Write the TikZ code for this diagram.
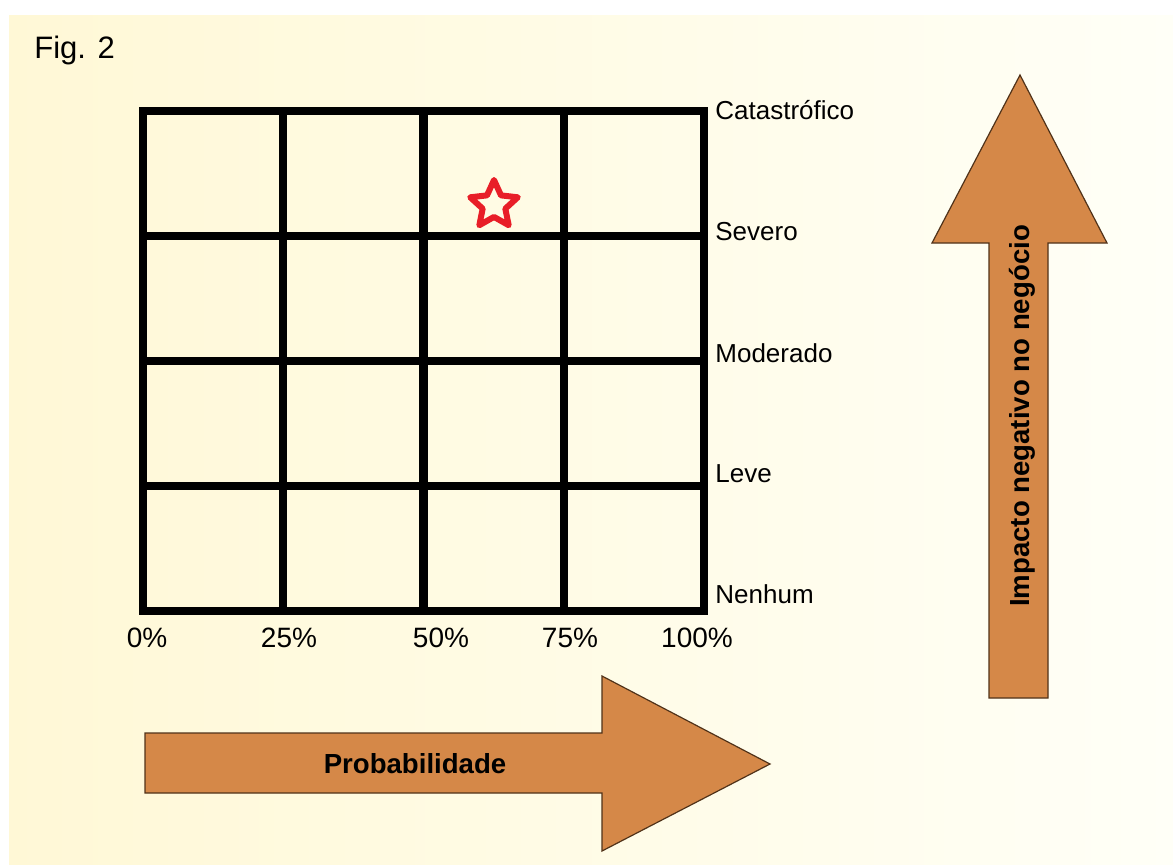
\documentclass[tikz,border=0pt]{standalone}
\usepackage{fontspec}
\setmainfont{Liberation Sans}
\usepackage{tikz}
\usetikzlibrary{positioning,shapes.geometric}
\definecolor{bgleft}{RGB}{255,248,214}
\definecolor{bgright}{RGB}{255,255,247}
\definecolor{arrowfill}{RGB}{213,136,72}
\definecolor{arrowedge}{RGB}{80,50,25}
\definecolor{starred}{RGB}{232,30,40}

\begin{document}
\begin{tikzpicture}[
    x=0.5pt, y=-0.5pt,
    every node/.style={font=\fontsize{13}{15}\selectfont, inner sep=0pt},
    gridline/.style={line width=4.2pt},
    level/.style={anchor=west},
    pct/.style={font=\fontsize{14}{16}\selectfont},
    bigarrow/.style={fill=arrowfill, draw=arrowedge, line width=0.6pt, line join=miter},
    arrowtext/.style={font=\bfseries\fontsize{13.8}{16}\selectfont},
    riskstar/.style={star, star points=5, star point ratio=2.1, draw=starred, line width=3pt, line join=round, minimum size=25pt}
]
\useasboundingbox (0,0) rectangle (1173,864);
\shade[left color=bgleft, right color=bgright] (9,15) rectangle (1173,864);

% title
\node[anchor=west, font=\fontsize{15.5}{18}\selectfont] (fig) at (34,50) {Fig. 2};

% grid
\foreach \i/\x in {0/143,1/283.25,2/423.5,3/563.75,4/704}
  \foreach \j/\y in {0/111,1/236,2/361,3/486,4/611}
    \coordinate (g\i\j) at (\x,\y);
\foreach \i in {1,2,3}
  \draw[gridline] (g\i0) -- (g\i4);
\foreach \j in {1,2,3}
  \draw[gridline] (g0\j) -- (g4\j);
\draw[gridline, line join=miter] (g00) rectangle (g44);

% impact levels
\foreach \n/\t/\y in {cat/Catastrófico/110, sev/Severo/232, mod/Moderado/353, lev/Leve/474, nen/Nenhum/594}
  \node[level] (\n) at (715,\y) {\t};

% probability ticks
\foreach \n/\t/\x in {p0/0\%/147, p25/25\%/289, p50/50\%/441, p75/75\%/570, p100/100\%/697}
  \node[pct] (\n) at (\x,638) {\t};

% marker
\node[riskstar] (risk) at (494,205) {};

% axes
\draw[bigarrow] (145,733) -- (602,733) -- (602,676) -- (770,764) -- (602,851) -- (602,793) -- (145,793) -- cycle;
\draw[bigarrow] (989,698) -- (989,243) -- (932,243) -- (1020,75) -- (1107,243) -- (1048,243) -- (1048,698) -- cycle;
\node[arrowtext] (prob) at (415,764) {Probabilidade};
\node[arrowtext, rotate=90] (impact) at (1022,416) {Impacto negativo no negócio};
\end{tikzpicture}
\end{document}
